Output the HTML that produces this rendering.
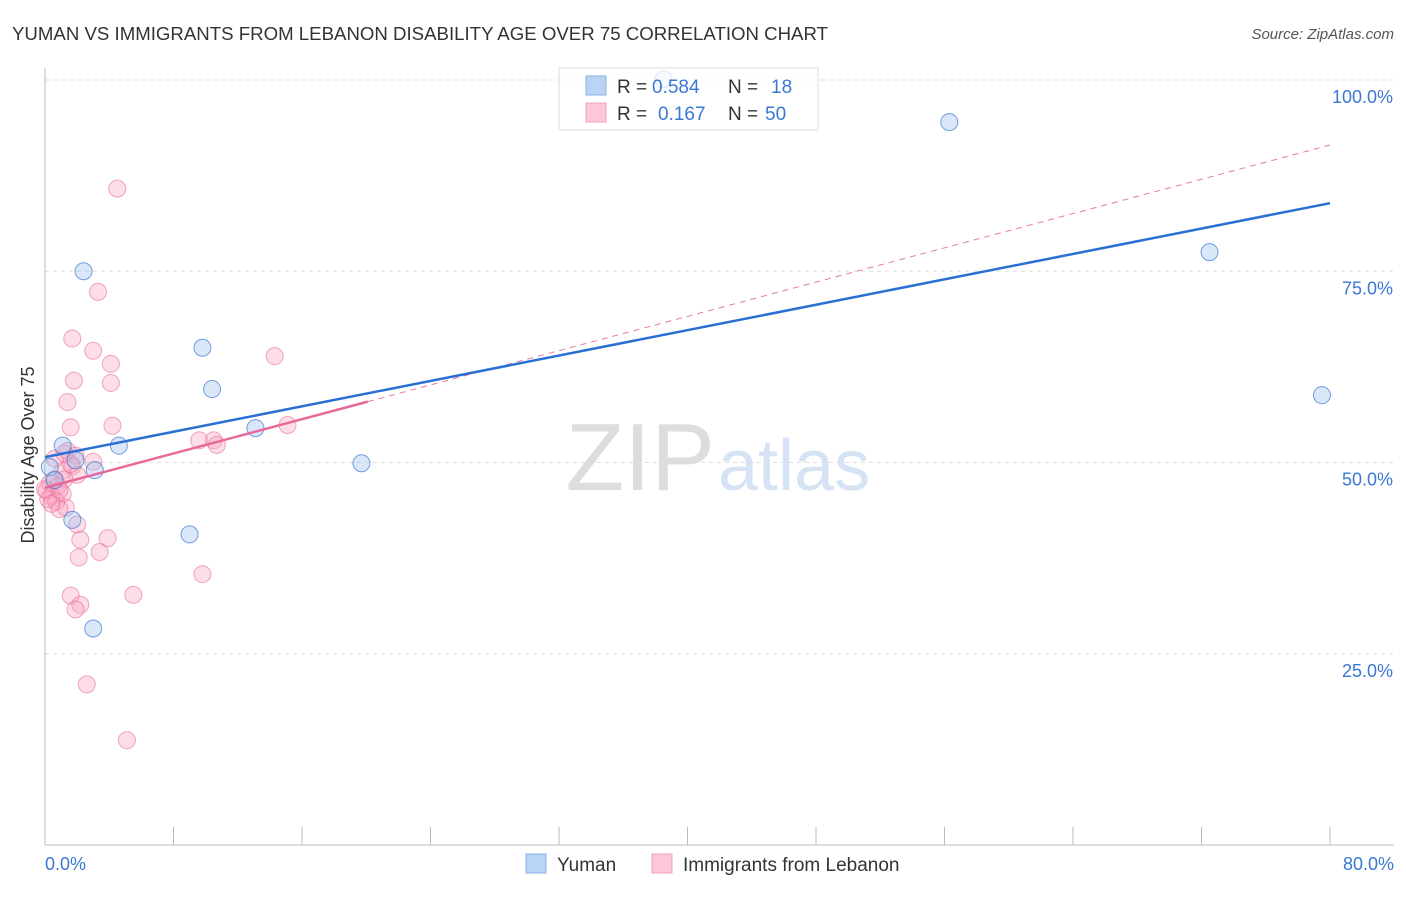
<!DOCTYPE html>
<html><head><meta charset="utf-8"><style>
body{margin:0;background:#fff;font-family:"Liberation Sans",sans-serif;}
svg text{font-family:"Liberation Sans",sans-serif;}
</style></head><body>
<svg id="c" width="1406" height="892" xmlns="http://www.w3.org/2000/svg">
<text x="12" y="40" font-size="18" fill="#333" textLength="816" lengthAdjust="spacingAndGlyphs">YUMAN VS IMMIGRANTS FROM LEBANON DISABILITY AGE OVER 75 CORRELATION CHART</text>
<text x="1394" y="39" font-size="15" fill="#555" font-style="italic" text-anchor="end">Source: ZipAtlas.com</text>
<text transform="translate(34,455) rotate(-90)" font-size="18" fill="#333" text-anchor="middle">Disability Age Over 75</text>
<text x="715" y="490" font-size="96" text-anchor="end" fill="#ddd" font-family="Liberation Serif">ZIP</text>
<text x="718" y="490" font-size="72" fill="#d5e3f5">atlas</text>
<g id="grid"></g><g id="marks"></g>
<g>
<rect x="559" y="68" width="259" height="62" fill="#fff" fill-opacity="0.75" stroke="#ddd"/>
<rect x="586" y="76" width="20" height="19" fill="#b9d4f5" stroke="#88b0e6"/>
<rect x="586" y="103" width="20" height="19" fill="#fcc8d8" stroke="#f0a0b8"/>
<text x="617" y="93" font-size="19" fill="#333">R =</text>
<text x="652" y="93" font-size="19" fill="#3a78d4">0.584</text>
<text x="728" y="93" font-size="19" fill="#333">N =</text>
<text x="771" y="93" font-size="19" fill="#3a78d4">18</text>
<text x="617" y="120" font-size="19" fill="#333">R =</text>
<text x="658" y="120" font-size="19" fill="#3a78d4">0.167</text>
<text x="728" y="120" font-size="19" fill="#333">N =</text>
<text x="765" y="120" font-size="19" fill="#3a78d4">50</text>
</g>
<g>
<rect x="526" y="854" width="20" height="19" fill="#b9d4f5" stroke="#88b0e6"/>
<text x="557" y="871" font-size="19" fill="#333">Yuman</text>
<rect x="652" y="854" width="20" height="19" fill="#fcc8d8" stroke="#f0a0b8"/>
<text x="683" y="871" font-size="19" fill="#333">Immigrants from Lebanon</text>
</g>
</svg>
<script>
const yTicks=[25,50,75,100];
const yTickLabels=["25.0%","50.0%","75.0%","100.0%"];
const xTickLabels=["0.0%","80.0%"];
const yumanX=[0.3,0.6,1.1,1.9,2.4,3.1,1.7,3.0,4.6,9.0,9.8,10.4,13.1,19.7,38.5,56.3,72.5,79.5];
const yumanY=[49.4,47.7,52.2,50.3,75.0,49.0,42.5,28.3,52.2,40.6,65.0,59.6,54.5,49.9,100.1,94.5,77.5,58.8];
const lebX=[4.5,3.3,1.7,3.0,4.1,14.3,1.8,4.1,1.4,1.6,4.2,1.4,1.9,3.0,1.7,1.1,2.0,0.6,1.2,0.3,0.8,0.1,1.1,0.4,0.2,0.7,1.3,0.9,2.0,2.2,3.9,2.1,3.4,9.6,10.5,10.7,15.1,1.6,5.5,2.2,1.9,9.8,2.6,5.1,1.6,0.6,1.2,0.0,0.4,0.9];
const lebY=[85.8,72.3,66.2,64.6,62.9,63.9,60.7,60.4,57.9,54.6,54.8,51.5,50.9,50.1,49.5,48.9,48.4,47.8,47.8,47.3,46.9,46.3,45.9,45.6,45.2,44.9,44.1,43.9,41.9,39.9,40.1,37.6,38.3,52.9,52.9,52.3,54.9,32.6,32.7,31.4,30.8,35.4,21.0,13.7,49.8,50.5,51.2,46.5,44.6,46.4];
const yumanLine=[50.7,83.9];
const lebLine=[46.7,91.5];
const lebSolidEnd=20.1;
const NS="http://www.w3.org/2000/svg";
const xs=v=>45+v/80*1285, ys=v=>845-v/100*765;
function mk(t,a,p){const e=document.createElementNS(NS,t);for(const k in a)e.setAttribute(k,a[k]);p.appendChild(e);return e;}
const g=document.getElementById('grid'),m=document.getElementById('marks');
yTicks.forEach((t,i)=>{
 const l=mk('line',{x1:45,x2:1394,y1:ys(t),y2:ys(t),stroke:'#ddd','stroke-dasharray':'4,4'},g);
 
 
 const tx=mk('text',{x:1393,y:ys(t)+23,'font-size':18,fill:'#3a78d4','text-anchor':'end'},g);
 tx.textContent=yTickLabels[i];
 
 
});
const ax=mk('line',{x1:45,x2:45,y1:68,y2:845,stroke:'#bbb'},g);


const bx=mk('line',{x1:45,x2:1394,y1:845,y2:845,stroke:'#bbb'},g);


for(let i=0;i<=10;i++){const t=mk('line',{x1:xs(i*8),x2:xs(i*8),y1:827,y2:845,stroke:'#bbb'},g);
 
 }
[[0,'start',45],[80,'end',1394]].forEach((d,i)=>{const t=mk('text',{x:d[2],y:870,'font-size':18,fill:'#3a78d4','text-anchor':d[1]},g);t.textContent=xTickLabels[i];
 
 });
lebX.forEach((x,i)=>{const c=mk('circle',{cx:xs(x),cy:ys(lebY[i]),r:8.5,fill:'rgba(248,160,188,0.35)',stroke:'rgba(230,110,150,0.6)'},m);
 
 });
yumanX.forEach((x,i)=>{const c=mk('circle',{cx:xs(x),cy:ys(yumanY[i]),r:8.5,fill:'rgba(160,195,240,0.4)',stroke:'rgba(60,120,210,0.7)'},m);
 
 });
const pd=mk('line',{x1:xs(lebSolidEnd),y1:ys(lebLine[0]+(lebLine[1]-lebLine[0])*lebSolidEnd/80),x2:xs(80),y2:ys(lebLine[1]),stroke:'#e87aa0','stroke-width':1,'stroke-dasharray':'6,5'},m);


const ps=mk('line',{x1:xs(0),y1:ys(lebLine[0]),x2:xs(lebSolidEnd),y2:ys(lebLine[0]+(lebLine[1]-lebLine[0])*lebSolidEnd/80),stroke:'#e8689a','stroke-width':2.5},m);


const bl=mk('line',{x1:xs(0),y1:ys(yumanLine[0]),x2:xs(80),y2:ys(yumanLine[1]),stroke:'#2a70d4','stroke-width':2.5},m);


</script>
</body></html>
